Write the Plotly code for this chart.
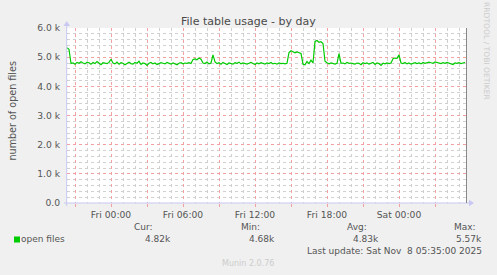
import plotly.graph_objects as go
import pandas as pd

# ---------------- data ----------------
start_time = "2025-11-06 20:20:00"
step_minutes = 10
open_files_k = [
    5.32, 5.27, 4.78, 4.80, 4.76, 4.82, 4.79, 4.84, 4.80, 4.77,
    4.83, 4.81, 4.76, 4.82, 4.78, 4.85, 4.80, 4.74, 4.81, 4.79,
    4.78, 4.82, 4.93, 4.80, 4.77, 4.83, 4.76, 4.81, 4.79, 4.74,
    4.80, 4.83, 4.78, 4.76, 4.82, 4.79, 4.86, 4.75, 4.80, 4.78,
    4.72, 4.79, 4.82, 4.77, 4.80, 4.75, 4.78, 4.81, 4.79, 4.77,
    4.82, 4.79, 4.76, 4.80, 4.78, 4.74, 4.79, 4.81, 4.77, 4.80,
    4.79, 4.81, 4.78, 4.92, 4.94, 4.91, 4.97, 4.93, 4.80, 4.78,
    4.83, 4.77, 4.80, 5.08, 4.84, 4.78, 4.81, 4.76, 4.82, 4.79,
    4.75, 4.80, 4.78, 4.76, 4.81, 4.79, 4.83, 4.77, 4.80, 4.78,
    4.76, 4.79, 4.82, 4.78, 4.75, 4.80, 4.77, 4.81, 4.79, 4.76,
    4.80, 4.78, 4.82, 4.77, 4.79, 4.76, 4.80, 4.78, 4.79, 4.77,
    4.79, 5.16, 5.22, 5.17, 5.15, 5.18, 5.16, 5.13, 4.76, 4.74,
    4.85, 4.78, 4.90, 4.80, 5.54, 5.57, 5.51, 5.53, 5.47, 4.86,
    4.81, 4.77, 4.80, 4.78, 4.76, 4.79, 5.12, 4.79, 4.80, 4.77,
    4.82, 4.79, 4.80, 4.78, 4.76, 4.80, 4.79, 4.74, 4.81, 4.78,
    4.80, 4.76, 4.79, 4.82, 4.75, 4.80, 4.78, 4.72, 4.79, 4.77,
    4.80, 4.78, 4.80, 4.95, 4.97, 4.96, 5.08, 4.80, 4.78, 4.82,
    4.77, 4.80, 4.76, 4.79, 4.81, 4.78, 4.80, 4.77, 4.82, 4.79,
    4.80, 4.83, 4.81, 4.79, 4.84, 4.82, 4.80, 4.78, 4.81, 4.79,
    4.82, 4.80, 4.77, 4.75, 4.80, 4.79, 4.81, 4.78, 4.80, 4.82,
]
x_range = ["2025-11-06 20:20:00", "2025-11-08 05:40:00"]
x_tick_times = ["2025-11-06 21:00", "2025-11-07 00:00", "2025-11-07 03:00",
                "2025-11-07 06:00", "2025-11-07 09:00", "2025-11-07 12:00",
                "2025-11-07 15:00", "2025-11-07 18:00", "2025-11-07 21:00",
                "2025-11-08 00:00", "2025-11-08 03:00"]
x_tick_labels = ["", "Fri 00:00", "", "Fri 06:00", "", "Fri 12:00", "",
                 "Fri 18:00", "", "Sat 00:00", ""]
y_tick_vals = [0, 1000, 2000, 3000, 4000, 5000, 6000]
y_tick_labels = ["0.0", "1.0 k", "2.0 k", "3.0 k", "4.0 k", "5.0 k", "6.0 k"]

title_text = "File table usage - by day"
y_title = "number of open files"
series_name = "open files"
stat_headers = ["Cur:", "Min:", "Avg:", "Max:"]
stat_values = ["4.82k", "4.68k", "4.83k", "5.57k"]
last_update = "Last update: Sat Nov\u00a0 8 05:35:00 2025"
footer = "Munin 2.0.76"
side_text = "RRDTOOL / TOBI OETIKER"

times = pd.date_range(start_time, periods=len(open_files_k), freq=f"{step_minutes}min")
values = [v * 1000 for v in open_files_k]

# ---------------- layout geometry ----------------
W, H = 497, 275
L, R, T, B = 67, 467, 28, 203
FONT = "DejaVu Sans"
TXT = "#555555"
GREEN = "#00CC00"
RED_GRID = "#F2A0A0"
GRAY_GRID = "#D0D0D0"
AXIS = "#C8C8F2"
LEG = 9.0


def px(x):
    return (x - L) / (R - L)


def py(y):
    return (B - y) / (B - T)


fig = go.Figure()
fig.add_trace(go.Scatter(x=times, y=values, mode="lines",
                         line=dict(color=GREEN, width=1.2), hoverinfo="skip",
                         showlegend=False))

fig.update_layout(
    width=W, height=H,
    margin=dict(l=L, r=W - R, t=T, b=H - B, pad=0),
    paper_bgcolor="#F0F0F0", plot_bgcolor="#FFFFFF",
    showlegend=False,
    font=dict(family=FONT, size=9.2, color=TXT),
    xaxis=dict(
        type="date", range=x_range, tickmode="array",
        tickvals=x_tick_times, ticktext=x_tick_labels,
        showgrid=True, gridcolor=RED_GRID, griddash="dot", gridwidth=1,
        ticks="outside", ticklen=3, tickcolor=RED_GRID, tickwidth=1,
        tickfont=dict(family=FONT, size=9.2, color=TXT),
        showline=False, zeroline=False, fixedrange=True,
        minor=dict(tickmode="linear", tick0="2025-11-06 21:00", dtick=3600000,
                   showgrid=True, gridcolor=GRAY_GRID, griddash="dot",
                   gridwidth=1, ticks=""),
    ),
    yaxis=dict(
        range=[0, 6000], tickmode="array", tickvals=y_tick_vals,
        ticktext=y_tick_labels,
        showgrid=True, gridcolor=RED_GRID, griddash="dot", gridwidth=1,
        ticks="", ticklabelstandoff=6,
        tickfont=dict(family=FONT, size=9.2, color=TXT),
        showline=False, zeroline=False, fixedrange=True,
        minor=dict(tickmode="linear", tick0=0, dtick=200, showgrid=True,
                   gridcolor=GRAY_GRID, griddash="dot", gridwidth=1, ticks=""),
    ),
)

shapes = []
# axes with arrows
shapes.append(dict(type="line", xref="paper", yref="paper", x0=px(L - 0.3), x1=px(L - 0.3),
                   y0=py(B + 3), y1=py(24), line=dict(color=AXIS, width=1)))
shapes.append(dict(type="path", xref="paper", yref="paper",
                   path=f"M {px(L - 3.5)} {py(26)} L {px(L - 0.3)} {py(21)} L {px(L + 3)} {py(26)} Z",
                   fillcolor=AXIS, line=dict(color=AXIS, width=0)))
shapes.append(dict(type="line", xref="paper", yref="paper", x0=px(L - 3), x1=px(R + 4),
                   y0=py(B), y1=py(B), line=dict(color=AXIS, width=1)))
shapes.append(dict(type="path", xref="paper", yref="paper",
                   path=f"M {px(R + 2)} {py(B - 3.3)} L {px(R + 7)} {py(B)} L {px(R + 2)} {py(B + 3.3)} Z",
                   fillcolor=AXIS, line=dict(color=AXIS, width=0)))
# right border of the canvas
shapes.append(dict(type="line", xref="paper", yref="paper", x0=px(R - 0.5), x1=px(R - 0.5),
                   y0=py(B), y1=py(T), line=dict(color="#888888", width=1)))
# legend swatch
shapes.append(dict(type="rect", xref="paper", yref="paper", x0=px(14), x1=px(20),
                   y0=py(242.5), y1=py(236.5), fillcolor=GREEN, line=dict(width=0)))
fig.update_layout(shapes=shapes)

ann = []


def text(t, x, y, xanchor="center", size=LEG, color=TXT, angle=0):
    ann.append(dict(text=t, x=px(x), y=py(y), xref="paper", yref="paper",
                    xanchor=xanchor, yanchor="middle", showarrow=False,
                    borderpad=0, textangle=angle,
                    font=dict(family=FONT, size=size, color=color)))


text(title_text, 248.7, 21.7, size=11.0, color="#4A4A4A")
text(y_title, 12.7, 110.8, size=9.6, angle=-90)
text(side_text, 487, 51, size=7.6, color="#CCCCCC", angle=90)
head_right = [153.5, 261, 368, 477]
val_right = [171.5, 275.5, 380, 483]
for hdr, hx in zip(stat_headers, head_right):
    text(hdr, hx, 227.3, xanchor="right")
for val, vx in zip(stat_values, val_right):
    text(val, vx, 239, xanchor="right")
text(series_name, 19.5, 239, xanchor="left")
text(last_update, 483, 250.7, xanchor="right")
text(footer, 248.3, 263, size=8.0, color="#CCCCCC")
fig.update_layout(annotations=ann)

fig.write_html("out.html", config=dict(displayModeBar=False))
